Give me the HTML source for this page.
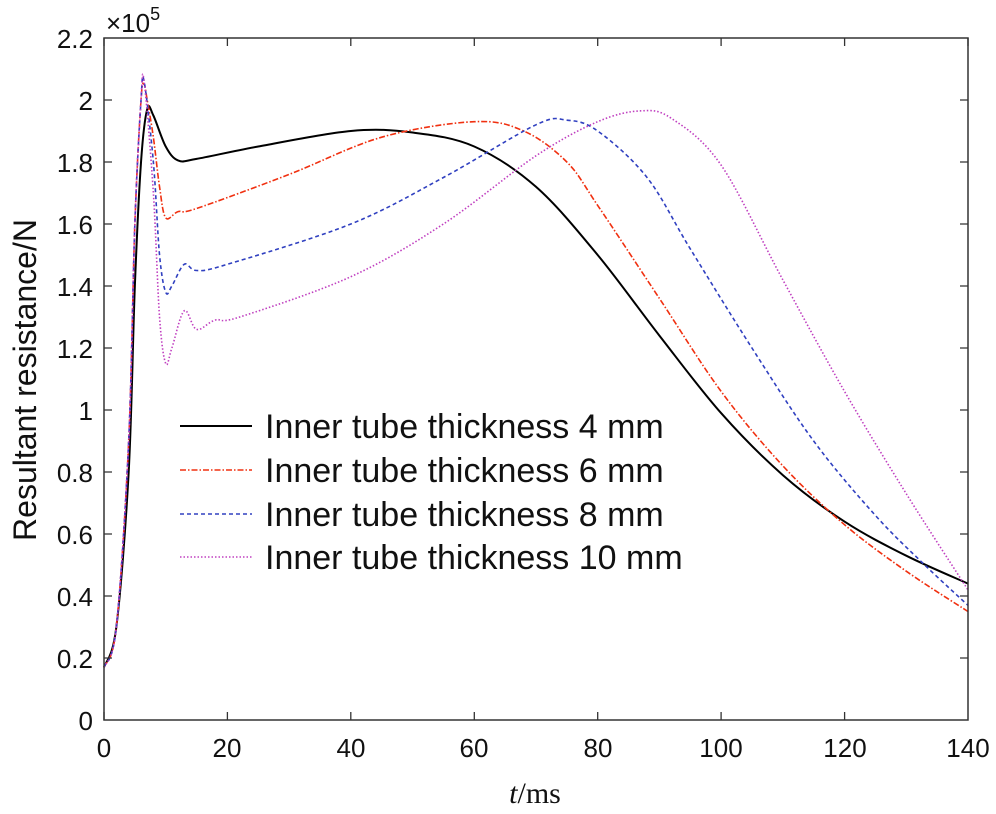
<!DOCTYPE html><html><head><style>body{margin:0;background:#fff}</style></head><body>
<svg id="s" width="996" height="809" xmlns="http://www.w3.org/2000/svg" font-family="Liberation Sans, sans-serif">
<rect x="0" y="0" width="996" height="809" fill="#fff"/>
<path id="c1" fill="none" stroke="#000" stroke-width="2"/>
<path id="c2" fill="none" stroke="#f03010" stroke-width="1.6" stroke-dasharray="6 2 1.5 2"/>
<path id="c3" fill="none" stroke="#3040c0" stroke-width="1.6" stroke-dasharray="4 3"/>
<path id="c4" fill="none" stroke="#c040c0" stroke-width="1.6" stroke-dasharray="1.5 2"/>
<rect x="104" y="38" width="864" height="682" fill="none" stroke="#333" stroke-width="1.5"/>
<g stroke="#333" stroke-width="1.3">
<path d="M104,720v-8M227.4,720v-8M350.8,720v-8M474.3,720v-8M597.7,720v-8M721.1,720v-8M844.6,720v-8M104,38v8M227.4,38v8M350.8,38v8M474.3,38v8M597.7,38v8M721.1,38v8M844.6,38v8M968,38v8"/>
<path d="M104,658h8M104,596h8M104,534h8M104,472h8M104,410h8M104,348h8M104,286h8M104,224h8M104,162h8M104,100h8M968,658h-8M968,596h-8M968,534h-8M968,472h-8M968,410h-8M968,348h-8M968,286h-8M968,224h-8M968,162h-8M968,100h-8"/>
</g>
<g font-size="26" text-anchor="middle" fill="#111">
<text x="104" y="757">0</text><text x="227" y="757">20</text><text x="351" y="757">40</text><text x="474" y="757">60</text><text x="598" y="757">80</text><text x="721" y="757">100</text><text x="845" y="757">120</text><text x="968" y="757">140</text>
</g>
<g font-size="26" text-anchor="end" fill="#111">
<text x="93" y="730">0</text><text x="93" y="668">0.2</text><text x="93" y="606">0.4</text><text x="93" y="544">0.6</text><text x="93" y="482">0.8</text><text x="93" y="420">1</text><text x="93" y="358">1.2</text><text x="93" y="296">1.4</text><text x="93" y="234">1.6</text><text x="93" y="172">1.8</text><text x="93" y="110">2</text><text x="93" y="48">2.2</text>
</g>
<text x="106" y="32" font-size="26" fill="#111">×10<tspan font-size="18" dy="-12">5</tspan></text>
<text transform="translate(36,380) rotate(-90)" font-size="32" text-anchor="middle" fill="#111">Resultant resistance/N</text>
<text x="535" y="803" font-size="30" text-anchor="middle" font-family="Liberation Serif, serif" fill="#111"><tspan font-style="italic">t</tspan>/ms</text>
<g font-size="34" fill="#111">
<line x1="180" y1="426" x2="252" y2="426" stroke="#000" stroke-width="2"/>
<text x="265" y="438">Inner tube thickness 4 mm</text>
<line x1="180" y1="470" x2="252" y2="470" stroke="#f03010" stroke-width="1.6" stroke-dasharray="6 2 1.5 2"/>
<text x="265" y="482">Inner tube thickness 6 mm</text>
<line x1="180" y1="514" x2="252" y2="514" stroke="#3040c0" stroke-width="1.6" stroke-dasharray="4 3"/>
<text x="265" y="526">Inner tube thickness 8 mm</text>
<line x1="180" y1="557" x2="252" y2="557" stroke="#c040c0" stroke-width="1.6" stroke-dasharray="1.5 2"/>
<text x="265" y="569">Inner tube thickness 10 mm</text>
</g>
</svg>
<script>
var D={
c1:[0,0.17,2,0.3,4,0.8,5,1.4,6,1.8,7,1.97,8,1.95,10,1.85,12,1.805,15,1.81,25,1.85,40,1.9,50,1.895,60,1.85,70,1.72,80,1.5,90,1.24,100,0.99,110,0.79,120,0.64,130,0.53,140,0.44],
c2:[0,0.17,2,0.3,4,0.9,5,1.6,6,2.0,6.5,2.05,7,2.0,8,1.88,9,1.72,10,1.62,12,1.64,15,1.65,30,1.76,45,1.88,60,1.93,68,1.9,75,1.8,80,1.66,90,1.36,100,1.06,110,0.82,120,0.63,130,0.48,140,0.35],
c3:[0,0.17,2,0.3,4,0.9,5,1.6,6,2.0,6.5,2.06,8,1.8,9,1.5,10,1.38,11,1.4,13,1.47,15,1.45,20,1.47,40,1.6,55,1.75,70,1.92,75,1.935,80,1.9,88,1.75,95,1.52,105,1.2,115,0.9,125,0.66,133,0.5,140,0.37],
c4:[0,0.17,2,0.3,4,0.9,5,1.6,6,2.0,6.5,2.06,8,1.7,9,1.3,10,1.15,11,1.2,13,1.32,15,1.26,18,1.29,22,1.3,40,1.43,55,1.6,70,1.82,80,1.93,87,1.965,92,1.94,100,1.79,110,1.42,120,1.06,130,0.73,140,0.42]};
for(var k in D){var a=D[k],p=[];for(var i=0;i<a.length;i+=2)p.push([104+a[i]*6.171,720-a[i+1]*310]);
var d="M"+p[0][0]+","+p[0][1];
for(var i=0;i<p.length-1;i++){var p0=p[i?i-1:i],p1=p[i],p2=p[i+1],p3=p[i+2<p.length?i+2:i+1];
d+="C"+(p1[0]+(p2[0]-p0[0])/6)+","+(p1[1]+(p2[1]-p0[1])/6)+" "+(p2[0]-(p3[0]-p1[0])/6)+","+(p2[1]-(p3[1]-p1[1])/6)+" "+p2[0]+","+p2[1];}
document.getElementById(k).setAttribute("d",d);}
</script>
</body></html>
